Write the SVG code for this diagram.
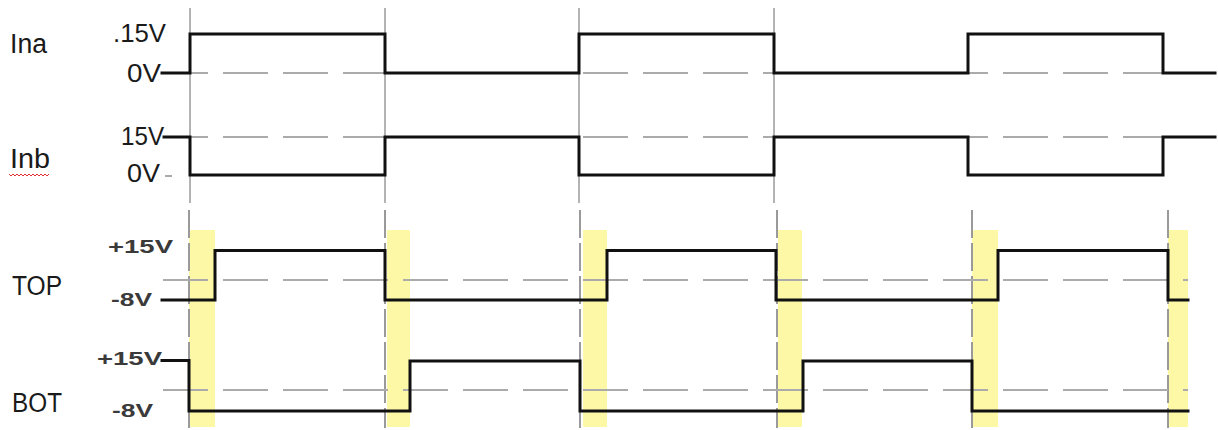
<svg xmlns="http://www.w3.org/2000/svg" width="1218" height="430" viewBox="0 0 1218 430">
<style>
.bg{fill:#ffffff}
.grid{stroke:#9a9a9a;stroke-width:1.5;fill:none}
.vdash{stroke:#9a9a9a;stroke-width:2;fill:none;stroke-dasharray:28 5}
.hdash{stroke:#ababab;stroke-width:2;fill:none;stroke-dasharray:45 15}
.band{fill:#fdf8a6}
.wave{stroke:#111;stroke-width:3;fill:none;stroke-linejoin:miter;stroke-linecap:square}
.name{font-family:"Liberation Sans",Arial,sans-serif;font-size:27px;fill:#1a1a1a}
.lvl{font-family:"Liberation Sans",Arial,sans-serif;font-size:25px;fill:#1a1a1a}
.lvl2{font-family:"Liberation Sans",Arial,sans-serif;font-size:18px;font-weight:bold;fill:#3a3a3a}
</style>
<rect class="bg" x="0" y="0" width="1218" height="430"/>

<g id="highlight-bands">
<rect class="band" x="189" y="230" width="26" height="197"/>
<rect class="band" x="387" y="230" width="23" height="197"/>
<rect class="band" x="583" y="230" width="24" height="197"/>
<rect class="band" x="778" y="230" width="24" height="197"/>
<rect class="band" x="972" y="230" width="26" height="197"/>
<rect class="band" x="1168" y="230" width="20" height="197"/>
</g>

<g id="grid-lines">
<line class="grid" x1="190" y1="8" x2="190" y2="203"/>
<line class="grid" x1="385" y1="8" x2="385" y2="203"/>
<line class="grid" x1="579" y1="8" x2="579" y2="203"/>
<line class="grid" x1="774" y1="8" x2="774" y2="203"/>
<line class="vdash" x1="189" y1="210" x2="189" y2="428"/>
<line class="vdash" x1="385" y1="210" x2="385" y2="428"/>
<line class="vdash" x1="580" y1="210" x2="580" y2="428"/>
<line class="vdash" x1="777" y1="210" x2="777" y2="428"/>
<line class="vdash" x1="972" y1="210" x2="972" y2="428"/>
<line class="vdash" x1="1168" y1="210" x2="1168" y2="428"/>
<line class="hdash" x1="163" y1="73" x2="1215" y2="73"/>
<line class="hdash" x1="163" y1="137" x2="1215" y2="137"/>
<line class="hdash" x1="163" y1="280" x2="1188" y2="280"/>
<line class="hdash" x1="163" y1="390" x2="1188" y2="390"/>
<line stroke="#aaa" stroke-width="2" x1="165" y1="176" x2="172" y2="176"/>
</g>

<g id="waveforms">
<path id="wave-ina" class="wave" d="M162 73 H190 V34 H385 V73 H579 V34 H774 V73 H968 V34 H1163 V73 H1215"/>
<path id="wave-inb" class="wave" d="M164 137 H190 V175 H385 V137 H579 V175 H774 V137 H968 V175 H1163 V137 H1215"/>
<path id="wave-top" class="wave" d="M162 300 H215 V250.5 H385 V300 H607 V250.5 H776 V300 H998 V250.5 H1168 V300 H1188"/>
<path id="wave-bot" class="wave" d="M162 360.5 H189 V411 H410 V361 H580 V411 H803 V361 H972 V411 H1188"/>
</g>

<g id="labels">
<text class="name" x="10" y="53" textLength="37" lengthAdjust="spacingAndGlyphs">Ina</text>
<text class="name" x="10" y="168" textLength="40" lengthAdjust="spacingAndGlyphs">Inb</text>
<path d="M9 174 l2 2 l2 -2 l2 2 l2 -2 l2 2 l2 -2 l2 2 l2 -2 l2 2 l2 -2 l2 2 l2 -2 l2 2 l2 -2 l2 2 l2 -2 l2 2 l2 -2 l2 2 l2 -2" stroke="#e03030" stroke-width="1" fill="none"/>
<text class="name" x="12" y="295" textLength="50" lengthAdjust="spacingAndGlyphs">TOP</text>
<text class="name" x="12" y="412" textLength="50" lengthAdjust="spacingAndGlyphs">BOT</text>

<text class="lvl" x="113" y="42" textLength="53" lengthAdjust="spacingAndGlyphs">.15V</text>
<text class="lvl" x="127" y="82" textLength="34" lengthAdjust="spacingAndGlyphs">0V</text>
<text class="lvl" x="121" y="145" textLength="43" lengthAdjust="spacingAndGlyphs">15V</text>
<text class="lvl" x="127" y="182" textLength="33" lengthAdjust="spacingAndGlyphs">0V</text>

<text class="lvl2" x="108" y="253" textLength="65" lengthAdjust="spacingAndGlyphs">+15V</text>
<text class="lvl2" x="111" y="306" textLength="41" lengthAdjust="spacingAndGlyphs">-8V</text>
<text class="lvl2" x="97" y="365" textLength="65" lengthAdjust="spacingAndGlyphs">+15V</text>
<text class="lvl2" x="112" y="417" textLength="41" lengthAdjust="spacingAndGlyphs">-8V</text>
</g>
</svg>
